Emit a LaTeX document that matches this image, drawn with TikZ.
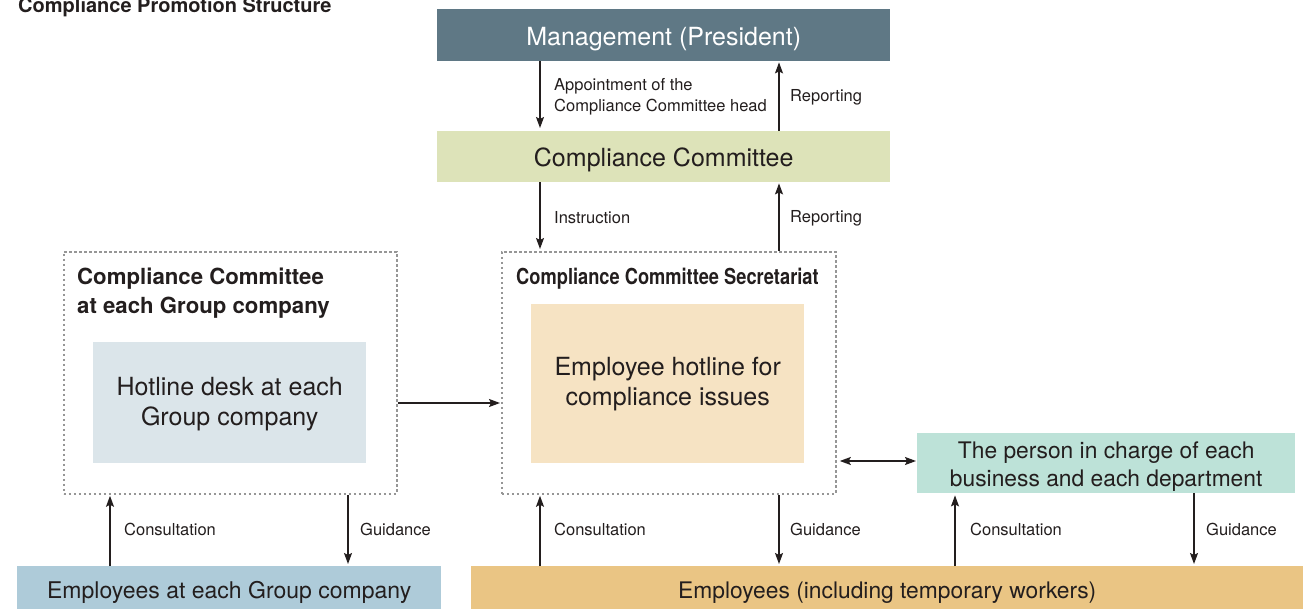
\documentclass[tikz,border=0pt]{standalone}
\usepackage{fontspec}
\setmainfont{TeX Gyre Heros}
\newfontfamily\condfont[FakeStretch=0.83]{TeX Gyre Heros}
\usetikzlibrary{arrows.meta}

\definecolor{ink}{RGB}{35,30,30}
\definecolor{mgmtblue}{RGB}{95,120,133}
\definecolor{commgreen}{RGB}{221,227,185}
\definecolor{hotpeach}{RGB}{246,227,195}
\definecolor{deskblue}{RGB}{219,229,234}
\definecolor{personmint}{RGB}{189,226,216}
\definecolor{grpblue}{RGB}{174,203,217}
\definecolor{empgold}{RGB}{234,197,132}
\definecolor{dotgray}{RGB}{150,150,150}

\tikzset{
  box/.style={rectangle, inner sep=0pt, anchor=north west, align=center, text=ink,
    font=\fontsize{25}{30}\selectfont},
  sink/.style={execute at begin node={\rule{0pt}{#1}}},
  dotbox/.style={rectangle, inner sep=0pt, anchor=north west, draw=dotgray,
    line width=1.8pt, dash pattern=on 2.5pt off 2.5pt},
  lbl/.style={inner sep=0pt, anchor=west, align=left, text=ink,
    font=\fontsize{16.5}{21}\selectfont},
  arr/.style={draw=ink, line width=1.4pt, -{Stealth[length=11pt, width=8pt, inset=2pt]}},
  dblarr/.style={draw=ink, line width=1.4pt,
    {Stealth[length=11pt, width=8pt, inset=2pt]}-{Stealth[length=11pt, width=8pt, inset=2pt]}}
}

\begin{document}
\begin{tikzpicture}[x=1pt, y=-1pt]
  \useasboundingbox (0,0) rectangle (1303,609);

  \node [inner sep=0pt, anchor=base west, text=ink, font=\fontsize{20}{24}\selectfont\bfseries] (title) at (18,12.5) {Compliance Promotion Structure};

  % top chain
  \node [box, sink=27pt, fill=mgmtblue, text=white, minimum width=453pt, minimum height=52pt] (mgmt) at (437,9) {Management (President)};
  \node [box, sink=26pt, fill=commgreen, minimum width=453pt, minimum height=51pt] (comm) at (437,131) {Compliance Committee};

  % secretariat
  \node [dotbox, minimum width=334pt, minimum height=242pt] (sec) at (501,251) {};
  \node [inner sep=0pt, anchor=west, text=ink, font=\fontsize{22}{26}\condfont\bfseries] (sectitle) at (516,278.5) {Compliance Committee Secretariat};
  \node [box, fill=hotpeach, minimum width=273pt, minimum height=159pt] (hotline) at (531,304) {\rule{0pt}{20pt}Employee hotline for\\compliance issues};

  % group company
  \node [dotbox, minimum width=333pt, minimum height=242pt] (grp) at (63,251) {};
  \node [inner sep=0pt, anchor=west, align=left, text=ink, font=\fontsize{22.2}{29}\selectfont\bfseries] (grptitle) at (77,293.5) {Compliance Committee\\at each Group company};
  \node [box, fill=deskblue, minimum width=273pt, minimum height=121pt] (desk) at (93,342) {\rule{0pt}{22pt}Hotline desk at each\\Group company};

  % person in charge
  \node [box, fill=personmint, minimum width=378pt, minimum height=60pt, font=\fontsize{22.8}{28}\selectfont] (person) at (917,433) {\rule{0pt}{24pt}The person in charge of each\\business and each department};

  % employees
  \node [box, sink=27pt, fill=grpblue, minimum width=424pt, minimum height=43pt, font=\fontsize{23}{28}\selectfont] (empgrp) at (17,566) {Employees at each Group company};
  \node [box, sink=27pt, fill=empgold, minimum width=832pt, minimum height=43pt, font=\fontsize{22.8}{28}\selectfont] (emp) at (471,566) {Employees (including temporary workers)};

  % arrows
  \draw [arr, shorten >=3pt] (mgmt.south -| 540,0) -- (comm.north -| 540,0);
  \draw [arr, shorten >=1pt] (comm.north -| 779,0) -- (mgmt.south -| 779,0);
  \draw [arr, shorten >=2pt] (comm.south -| 540,0) -- (sec.north -| 540,0);
  \draw [arr, shorten >=1pt] (sec.north -| 779,0) -- (comm.south -| 779,0);
  \draw [arr, shorten >=1pt] (grp.east |- 0,403) -- (sec.west |- 0,403);
  \draw [dblarr, shorten <=3pt, shorten >=1pt] (sec.east |- 0,461) -- (person.west |- 0,461);
  \draw [arr, shorten >=1pt] (empgrp.north -| 110,0) -- (grp.south -| 110,0);
  \draw [arr, shorten >=2pt] (grp.south -| 348,0) -- (empgrp.north -| 348,0);
  \draw [arr, shorten >=1pt] (emp.north -| 540,0) -- (sec.south -| 540,0);
  \draw [arr, shorten >=2pt] (sec.south -| 779,0) -- (emp.north -| 779,0);
  \draw [arr, shorten >=2pt] (emp.north -| 955,0) -- (person.south -| 955,0);
  \draw [arr, shorten >=2pt] (person.south -| 1194,0) -- (emp.north -| 1194,0);

  % arrow labels
  \node [lbl] (appoint) at (554,96.5) {Appointment of the\\Compliance Committee head};
  \node [lbl] (report1) at (790,97.5) {Reporting};
  \node [lbl] (instruct) at (554,218) {Instruction};
  \node [lbl] (report2) at (790,218) {Reporting};
  \node [lbl] (consult1) at (124,529.5) {Consultation};
  \node [lbl] (guide1) at (360,529) {Guidance};
  \node [lbl] (consult2) at (554,529.5) {Consultation};
  \node [lbl] (guide2) at (790,529) {Guidance};
  \node [lbl] (consult3) at (970,529.5) {Consultation};
  \node [lbl] (guide3) at (1206,529) {Guidance};
\end{tikzpicture}
\end{document}
